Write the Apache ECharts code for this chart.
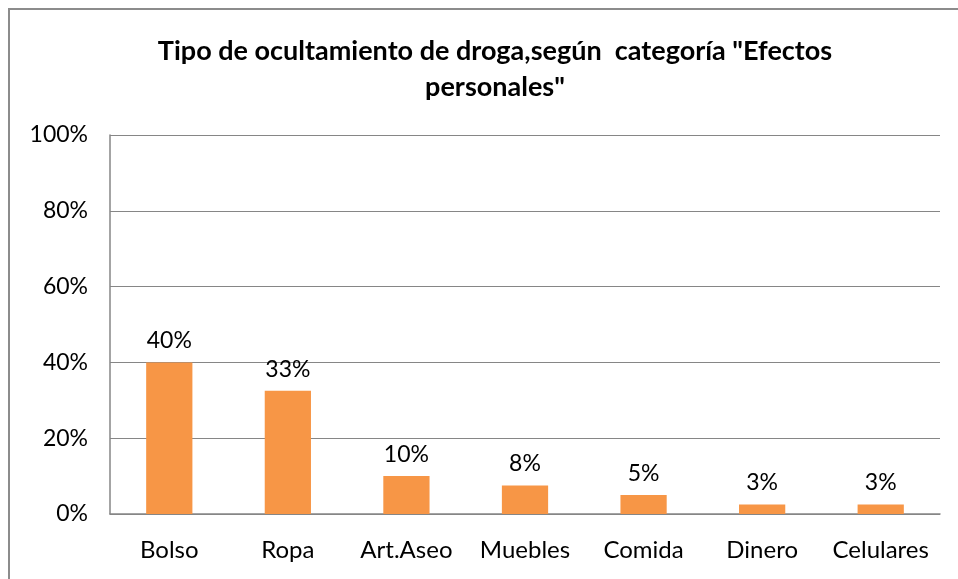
<!DOCTYPE html>
<html>
<head>
<meta charset="utf-8">
<script src="https://cdn.jsdelivr.net/npm/echarts@6/dist/echarts.min.js"></script>
<style>
  html, body { margin: 0; padding: 0; background: #fff; }
  #frame { position: absolute; left: 8px; top: 8px; width: 980px; height: 600px; border: 2px solid #8c8c8c; box-sizing: border-box; }
  #myChart { position: absolute; left: 0; top: 0; width: 958px; height: 579px; }
</style>
</head>
<body>
<div id="frame"></div>
<div id="myChart"></div>
<script>
// categorias y porcentajes
const categorias = ['Bolso', 'Ropa', 'Art.Aseo', 'Muebles', 'Comida', 'Dinero', 'Celulares']
const porcentajes = [40, 32.5, 10, 7.5, 5, 2.5, 2.5]

let myChart = echarts.init(document.getElementById('myChart'))
let options = {
  title: {
    text: 'Tipo de ocultamiento de droga,según  categoría "Efectos\npersonales"',
    left: 490,
    top: 28,
    textAlign: 'center',
    textStyle: {
      fontFamily: 'Lato',
      fontWeight: 'bold',
      fontSize: 27,
      lineHeight: 36,
      color: '#000'
    }
  },
  grid: {
    left: 110,
    right: 18,
    top: 135,
    bottom: 65
  },
  xAxis: {
    type: 'category',
    data: categorias,
    axisLine: { lineStyle: { color: '#868686', width: 1.5 } },
    axisTick: { show: false },
    axisLabel: { interval: 0, color: '#000', fontFamily: 'Lato', fontSize: 24, margin: 24 }
  },
  yAxis: {
    type: 'value',
    min: 0,
    max: 100,
    interval: 20,
    axisLine: { show: true, lineStyle: { color: '#868686', width: 1.5 } },
    axisTick: { show: false },
    splitLine: { lineStyle: { color: '#868686', width: 1.2 } },
    axisLabel: {
      color: '#000',
      fontFamily: 'Lato',
      fontSize: 23,
      margin: 22,
      formatter: '{value}%'
    }
  },
  series: [{
    type: 'bar',
    data: porcentajes,
    barWidth: '39%',
    itemStyle: { color: '#F79646' },
    label: {
      show: true,
      position: 'top',
      distance: 10,
      color: '#000',
      fontFamily: 'Lato',
      fontSize: 23,
      formatter: p => Math.round(p.value) + '%'
    }
  }]
}
myChart.setOption(options)
</script>
</body>
</html>
